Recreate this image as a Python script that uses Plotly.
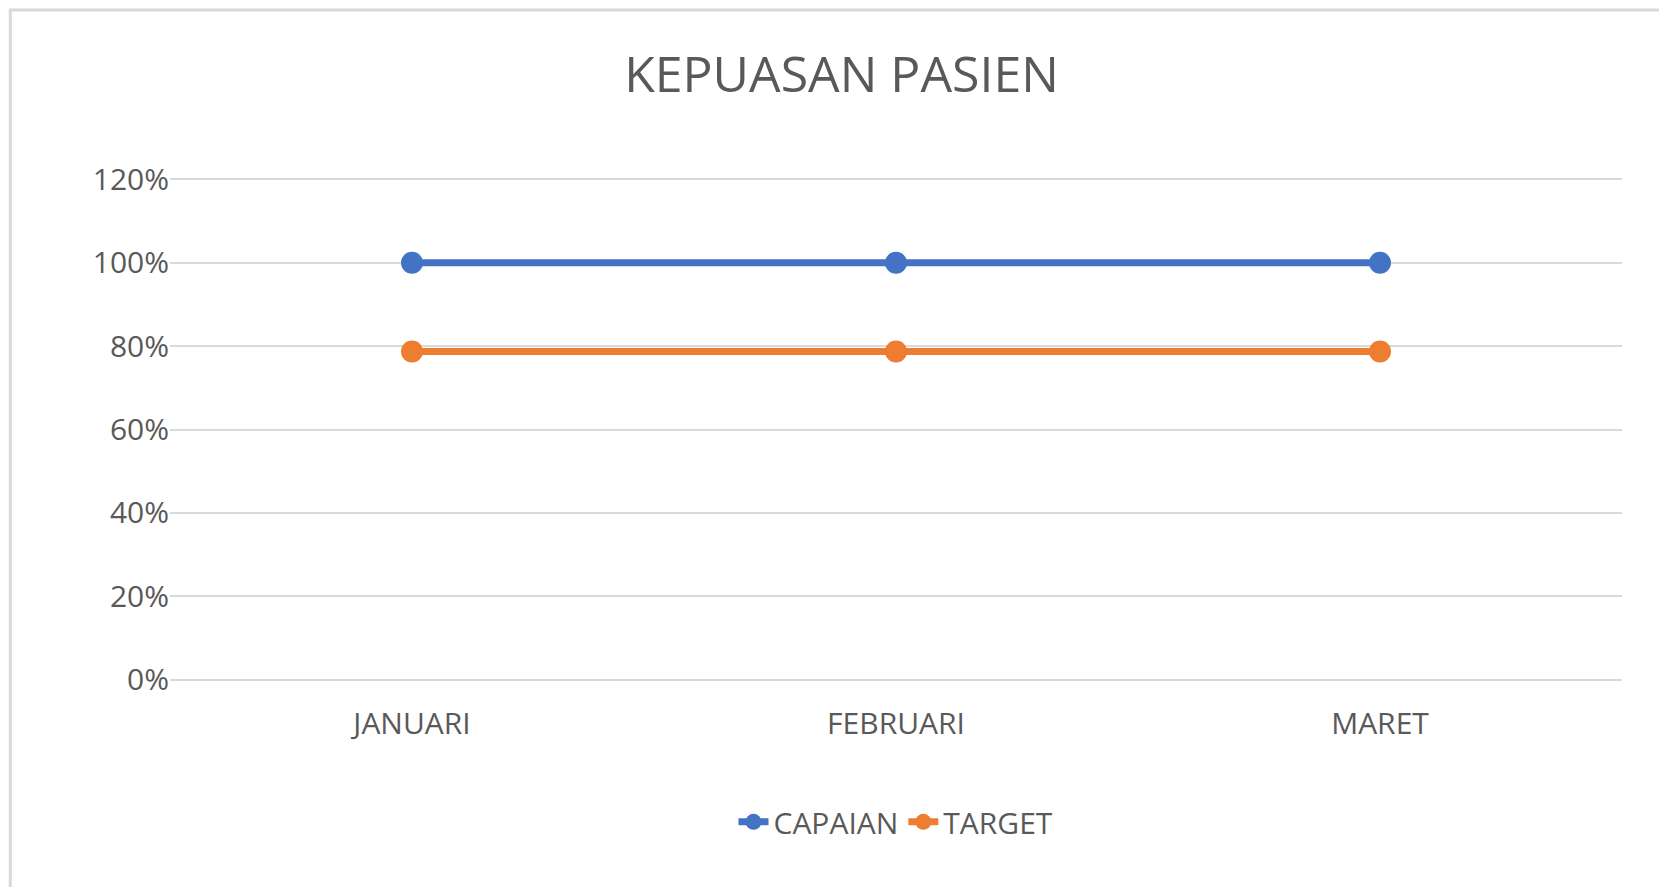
import plotly.graph_objects as go

bulan = ["JANUARI", "FEBRUARI", "MARET"]
capaian = [1.0, 1.0, 1.0]
target = [0.787, 0.787, 0.787]

fig = go.Figure()
fig.add_trace(go.Scatter(x=bulan, y=capaian, name="CAPAIAN", mode="lines+markers",
                         line=dict(color="#4472C4", width=7), marker=dict(size=22)))
fig.add_trace(go.Scatter(x=bulan, y=target, name="TARGET", mode="lines+markers",
                         line=dict(color="#ED7D31", width=7), marker=dict(size=22)))

fig.update_layout(
    width=1667, height=887,
    paper_bgcolor="white", plot_bgcolor="white",
    font=dict(family="Open Sans", color="#595959", size=30),
    title=dict(text="KEPUASAN PASIEN", x=0.5, xanchor="center", y=0.925, yanchor="middle",
               font=dict(size=50, color="#595959")),
    margin=dict(l=162, r=53, t=170, b=214),
    legend=dict(orientation="h", x=0.5, xanchor="center", y=-0.28, yanchor="middle",
                font=dict(size=30)),
    xaxis=dict(range=[-0.5, 2.5], showgrid=False, showline=False, ticks="",
               ticklabelstandoff=22),
    yaxis=dict(range=[-0.003, 1.203], tickvals=[0, 0.2, 0.4, 0.6, 0.8, 1.0, 1.2],
               tickformat=".0%", gridcolor="#D9D9D9", gridwidth=2, zeroline=False,
               ticksuffix="  "),
    shapes=[dict(type="rect", xref="paper", yref="paper", x0=-0.110, x1=1.0337,
                 y0=-0.4195, y1=1.334, line=dict(color="#D9D9D9", width=3))],
)
fig.write_html("out.html")
